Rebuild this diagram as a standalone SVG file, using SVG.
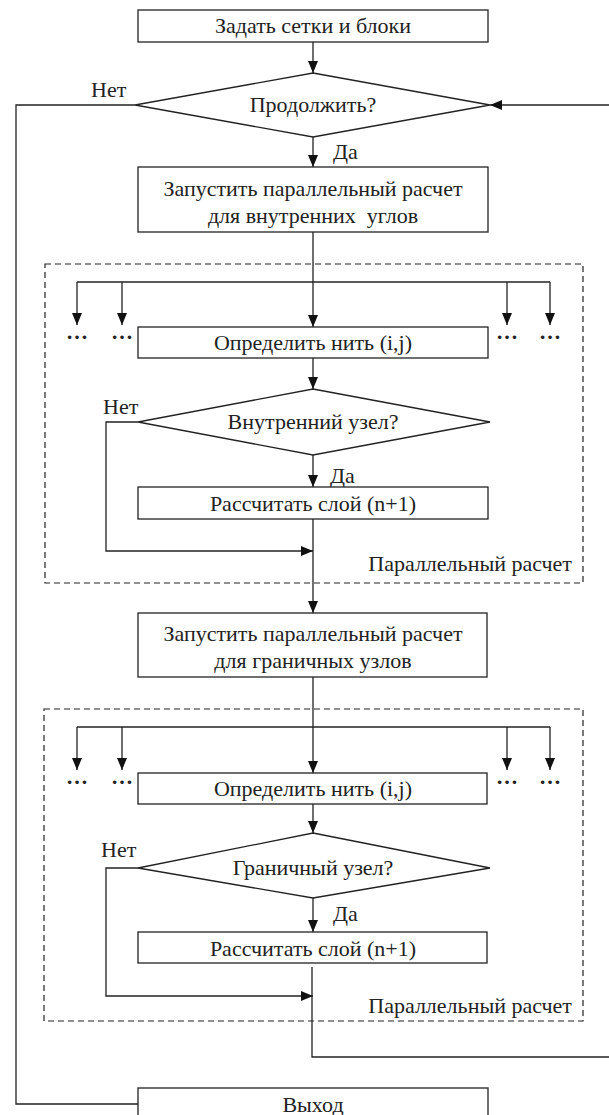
<svg xmlns="http://www.w3.org/2000/svg" width="609" height="1115" viewBox="0 0 609 1115" font-family="'Liberation Serif', 'Times New Roman', serif">
<style>
.b{fill:#fff;stroke:#222;stroke-width:1.3}
.c{fill:none;stroke:#222;stroke-width:1.3}
.d{fill:none;stroke:#222;stroke-width:1.2;stroke-dasharray:6 4}
text{font-family:'Liberation Serif','Times New Roman',serif;font-size:22px;fill:#222}
.m{text-anchor:middle}
.r{text-anchor:end}
.dt{font-size:22px;font-weight:bold}
</style>
<defs>
<marker id="a" markerUnits="userSpaceOnUse" markerWidth="12" markerHeight="10" refX="12" refY="5" orient="auto">
<path d="M0,0 L12,5 L0,10 z" fill="#111"/>
</marker>
</defs>
<g id="groups">
<rect id="par1" class="d" x="45" y="264" width="538" height="319"/>
<rect id="par2" class="d" x="44" y="709" width="539" height="312"/>
<text class="r" x="572" y="571">Параллельный расчет</text>
<text class="r" x="572" y="1013">Параллельный расчет</text>
</g>
<g id="connectors">
<path class="c" d="M313,42 V73" marker-end="url(#a)"/>
<path class="c" d="M609,105 H490" marker-end="url(#a)"/>
<path class="c" d="M135,105 H16 V1104 H138"/>
<text x="91" y="97">Нет</text>
<path class="c" d="M313,137 V167" marker-end="url(#a)"/>
<text x="333" y="159">Да</text>
<path class="c" d="M313,232 V327" marker-end="url(#a)"/>
<path class="c" d="M77,282 H550"/>
<path class="c" d="M77,282 V325" marker-end="url(#a)"/>
<path class="c" d="M122,282 V325" marker-end="url(#a)"/>
<path class="c" d="M507,282 V325" marker-end="url(#a)"/>
<path class="c" d="M550,282 V325" marker-end="url(#a)"/>
<path class="c" d="M313,358 V389" marker-end="url(#a)"/>
<path class="c" d="M138,422 H106 V551 H313" marker-end="url(#a)"/>
<text x="103" y="414">Нет</text>
<path class="c" d="M313,455 V487" marker-end="url(#a)"/>
<text x="330" y="483">Да</text>
<path class="c" d="M313,519 V613" marker-end="url(#a)"/>
<path class="c" d="M313,677 V773" marker-end="url(#a)"/>
<path class="c" d="M77,727 H550"/>
<path class="c" d="M77,727 V770" marker-end="url(#a)"/>
<path class="c" d="M122,727 V770" marker-end="url(#a)"/>
<path class="c" d="M507,727 V770" marker-end="url(#a)"/>
<path class="c" d="M550,727 V770" marker-end="url(#a)"/>
<path class="c" d="M313,804 V833" marker-end="url(#a)"/>
<path class="c" d="M138,868 H106 V996 H313" marker-end="url(#a)"/>
<text x="101" y="857">Нет</text>
<path class="c" d="M313,898 V932" marker-end="url(#a)"/>
<text x="333" y="921">Да</text>
<path class="c" d="M312,967 V1057 H609"/>
</g>
<g id="dots">
<text class="m dt" x="77" y="339">…</text>
<text class="m dt" x="122" y="339">…</text>
<text class="m dt" x="507" y="339">…</text>
<text class="m dt" x="550" y="339">…</text>
<text class="m dt" x="77" y="784">…</text>
<text class="m dt" x="122" y="784">…</text>
<text class="m dt" x="507" y="784">…</text>
<text class="m dt" x="550" y="784">…</text>
</g>
<g id="n1"><rect class="b" x="138" y="10" width="350" height="32"/><text class="m" x="313" y="33">Задать сетки и блоки</text></g>
<g id="n2"><polygon class="b" points="313,73 490,105 313,137 135,105"/><text class="m" x="313" y="112">Продолжить?</text></g>
<g id="n3"><rect class="b" x="138" y="167" width="350" height="65"/><text class="m" x="313" y="196">Запустить параллельный расчет</text><text class="m" x="313" y="223" xml:space="preserve">для внутренних  углов</text></g>
<g id="n4"><rect class="b" x="138" y="327" width="350" height="31"/><text class="m" x="313" y="350">Определить нить (i,j)</text></g>
<g id="n5"><polygon class="b" points="313,389 490,422 313,455 138,422"/><text class="m" x="313" y="429">Внутренний узел?</text></g>
<g id="n6"><rect class="b" x="138" y="487" width="350" height="32"/><text class="m" x="313" y="511">Рассчитать слой (n+1)</text></g>
<g id="n7"><rect class="b" x="138" y="613" width="349" height="64"/><text class="m" x="313" y="641">Запустить параллельный расчет</text><text class="m" x="313" y="668">для граничных узлов</text></g>
<g id="n8"><rect class="b" x="138" y="773" width="349" height="31"/><text class="m" x="313" y="796">Определить нить (i,j)</text></g>
<g id="n9"><polygon class="b" points="313,833 490,868 313,898 138,868"/><text class="m" x="313" y="875">Граничный узел?</text></g>
<g id="n10"><rect class="b" x="138" y="932" width="349" height="31"/><text class="m" x="313" y="956">Рассчитать слой (n+1)</text></g>
<g id="n11"><rect class="b" x="138" y="1088" width="350" height="40"/><text class="m" x="313" y="1112">Выход</text></g>
</svg>
